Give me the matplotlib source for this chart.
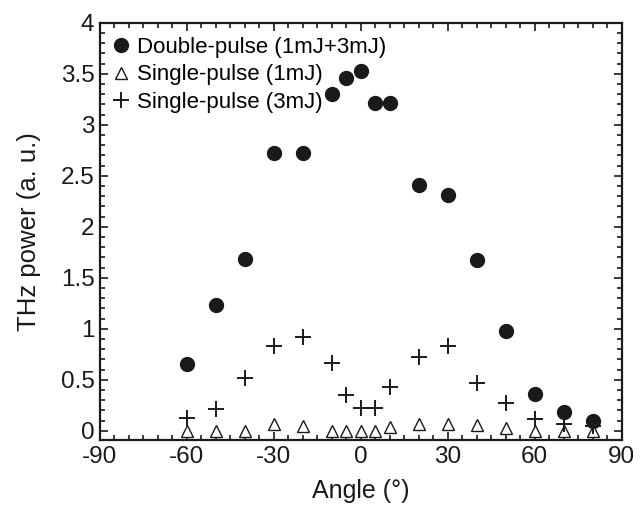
import numpy as np
import matplotlib
matplotlib.use("Agg")
import matplotlib.pyplot as plt
from matplotlib.ticker import MultipleLocator, FormatStrFormatter

plt.rcParams['font.family'] = ['Liberation Sans', 'DejaVu Sans']
plt.rcParams['axes.unicode_minus'] = False

# angles (deg)
angle = [-60, -50, -40, -30, -20, -10, -5, 0, 5, 10, 20, 30, 40, 50, 60, 70, 80]

# THz power (a. u.)
double_pulse = [0.65, 1.235, 1.68, 2.725, 2.725, 3.30, 3.46, 3.53, 3.21, 3.21,
                2.41, 2.31, 1.67, 0.98, 0.365, 0.18, 0.10]
single_1mj = [0.0, 0.0, 0.0, 0.066, 0.046, 0.0, 0.0, 0.0, 0.0, 0.04,
              0.066, 0.07, 0.055, 0.03, 0.0, 0.0, 0.0]
single_3mj = [0.13, 0.21, 0.52, 0.83, 0.915, 0.66, 0.35, 0.225, 0.22, 0.43,
              0.72, 0.83, 0.465, 0.27, 0.12, 0.065, 0.05]

fig = plt.figure(figsize=(6.41, 5.09), dpi=100)
ax = fig.add_axes([0.156, 0.1356, 0.814, 0.8198])

ax.plot(angle, double_pulse, 'o', color='#1a1a1a', ms=10, ls='none',
        label='Double-pulse (1mJ+3mJ)')
ax.plot(angle, single_1mj, '^', mfc='white', mec='#1a1a1a', mew=1.0, ms=9,
        ls='none', label='Single-pulse (1mJ)')
ax.plot(angle, single_3mj, '+', color='#1a1a1a', mew=1.4, ms=12, ls='none',
        label='Single-pulse (3mJ)')

ax.set_xlim(-90, 90)
ax.set_ylim(-0.09, 4)
ax.xaxis.set_major_locator(MultipleLocator(30))
ax.xaxis.set_minor_locator(MultipleLocator(5))
ax.yaxis.set_major_locator(MultipleLocator(0.5))
ax.yaxis.set_minor_locator(MultipleLocator(0.1))
ax.yaxis.set_major_formatter(FormatStrFormatter('%g'))

ax.tick_params(which='both', direction='in', top=True, right=True,
               labelsize=17.5, width=1.2, colors='#1a1a1a')
ax.tick_params(which='major', length=6, pad=4)
ax.tick_params(which='minor', length=3.5)
for s in ax.spines.values():
    s.set_linewidth(1.6)
    s.set_color('#1a1a1a')

ax.set_xlabel('Angle (°)', fontsize=18, color='#1a1a1a', labelpad=8)
ax.set_ylabel('THz power (a. u.)', fontsize=18.5, color='#1a1a1a', labelpad=14)

ax.legend(loc='upper left', frameon=False, fontsize=16, handlelength=0.6,
          handletextpad=0.4, labelspacing=0.28, borderaxespad=0.3,
          borderpad=0.35)

fig.savefig('out.png', dpi=100)
